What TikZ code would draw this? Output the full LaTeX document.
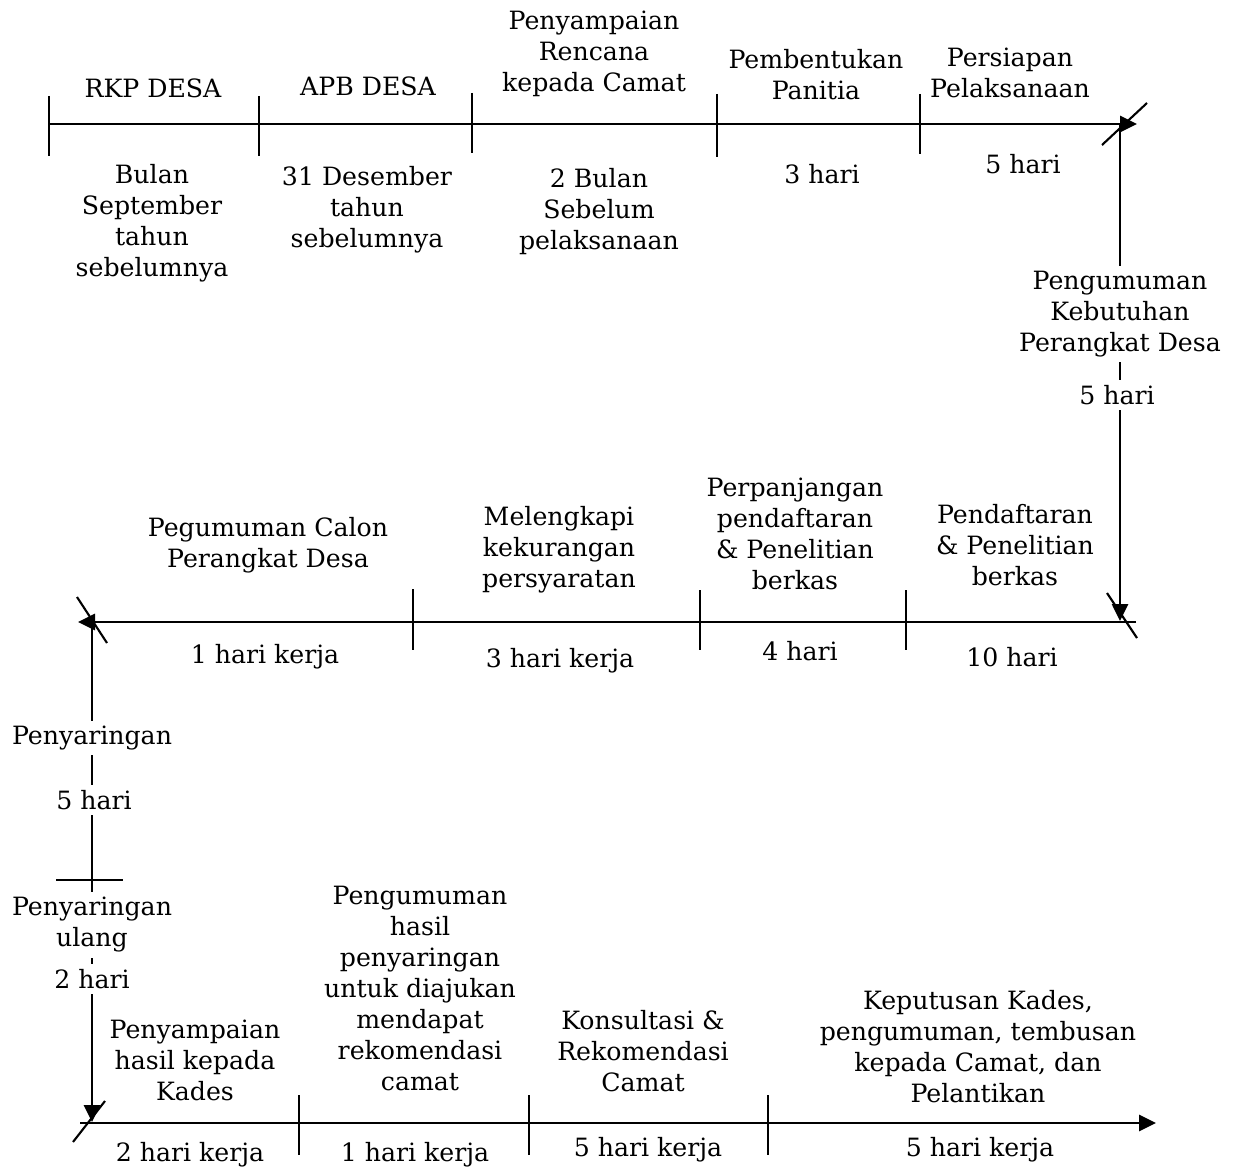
\documentclass[tikz,border=0pt]{standalone}
\usepackage{fontspec}
\setmainfont{DejaVu Serif}
\usetikzlibrary{arrows.meta}
\begin{document}
\begin{tikzpicture}[x=0.5pt,y=-0.5pt,
  axis/.style={line width=1.35pt},
  tip/.style={-{Triangle[length=8.5pt,width=8pt]}},
  tick/.style={line width=1.05pt},
  lbl/.style={align=center, font=\fontsize{12.6}{15.5}\selectfont, inner sep=1pt},
  cut/.style={lbl, fill=white, inner sep=2.5pt}]
\useasboundingbox (0,0) rectangle (1236,1172);

% ---- timeline points
\coordinate (A) at (49,124);   \coordinate (B) at (1137,124);
\coordinate (C) at (1120,124); \coordinate (D) at (1120,621);
\coordinate (E) at (1136,622); \coordinate (F) at (78,622);
\coordinate (G) at (92,622);   \coordinate (H) at (92,1122);
\coordinate (I) at (80,1123);  \coordinate (J) at (1156,1123);

\draw[axis,tip] (A) -- (B);
\draw[axis,tip] (C) -- (D);
\draw[axis,tip] (E) -- (F);
\draw[axis,tip] (G) -- (H);
\draw[axis,tip] (I) -- (J);

% ---- ticks row 1
\draw[tick] (49,96) -- (49,156);
\draw[tick] (259,96) -- (259,156);
\draw[tick] (472,93) -- (472,153);
\draw[tick] (717,94) -- (717,157);
\draw[tick] (920,94) -- (920,154);
% ---- ticks row 2
\draw[tick] (413,589) -- (413,650);
\draw[tick] (700,590) -- (700,650);
\draw[tick] (906,590) -- (906,650);
% ---- ticks row 3
\draw[tick] (299,1095) -- (299,1155);
\draw[tick] (529,1095) -- (529,1155);
\draw[tick] (768,1095) -- (768,1155);
% ---- cross tick on left vertical
\draw[tick] (56,880) -- (123,880);
% ---- corner slashes
\draw[tick] (1102,145) -- (1147,103);
\draw[tick] (1107,593) -- (1137,638);
\draw[tick] (77,597) -- (107,643);
\draw[tick] (73,1142) -- (105,1101);

% ---- row 1 labels
\node[lbl] (r1a) at (153,88) {RKP DESA};
\node[lbl] (r1b) at (368,86) {APB DESA};
\node[lbl] (r1c) at (594,54) {Penyampaian\\Rencana\\kepada Camat};
\node[lbl] (r1d) at (816,75) {Pembentukan\\Panitia};
\node[lbl] (r1e) at (1010,73) {Persiapan\\Pelaksanaan};
\node[lbl] (r1f) at (152,223) {Bulan\\September\\tahun\\sebelumnya};
\node[lbl] (r1g) at (367,210) {31 Desember\\tahun\\sebelumnya};
\node[lbl] (r1h) at (599,212) {2 Bulan\\Sebelum\\pelaksanaan};
\node[lbl] (r1i) at (822,174) {3 hari};
\node[lbl] (r1j) at (1023,164) {5 hari};

% ---- right vertical
\node[cut] (v1a) at (1120,314) {Pengumuman\\Kebutuhan\\Perangkat Desa};
\node[cut] (v1b) at (1117,395) {5 hari};

% ---- row 2 labels
\node[lbl] (r2a) at (268,545) {Pegumuman Calon\\Perangkat Desa};
\node[lbl] (r2b) at (559,550) {Melengkapi\\kekurangan\\persyaratan};
\node[lbl] (r2c) at (795,534) {Perpanjangan\\pendaftaran\\\& Penelitian\\berkas};
\node[lbl] (r2d) at (1015,545) {Pendaftaran\\\& Penelitian\\berkas};
\node[lbl] (r2e) at (265,657) {1 hari kerja};
\node[lbl] (r2f) at (560,661) {3 hari kerja};
\node[lbl] (r2g) at (800,651) {4 hari};
\node[lbl] (r2h) at (1012,657) {10 hari};

% ---- left vertical
\node[cut] (v2a) at (92,738) {Penyaringan};
\node[cut] (v2b) at (94,800) {5 hari};
\node[cut] (v2c) at (92,925) {Penyaringan\\ulang};
\node[cut] (v2d) at (92,979) {2 hari};

% ---- row 3 labels
\node[lbl] (r3a) at (195,1060) {Penyampaian\\hasil kepada\\Kades};
\node[lbl] (r3b) at (420,988) {Pengumuman\\hasil\\penyaringan\\untuk diajukan\\mendapat\\rekomendasi\\camat};
\node[lbl] (r3c) at (643,1051) {Konsultasi \&\\Rekomendasi\\Camat};
\node[lbl] (r3d) at (978,1047) {Keputusan Kades,\\pengumuman, tembusan\\kepada Camat, dan\\Pelantikan};
\node[lbl] (r3e) at (190,1155) {2 hari kerja};
\node[lbl] (r3f) at (415,1155) {1 hari kerja};
\node[lbl] (r3g) at (648,1150) {5 hari kerja};
\node[lbl] (r3h) at (980,1150) {5 hari kerja};
\end{tikzpicture}
\end{document}
